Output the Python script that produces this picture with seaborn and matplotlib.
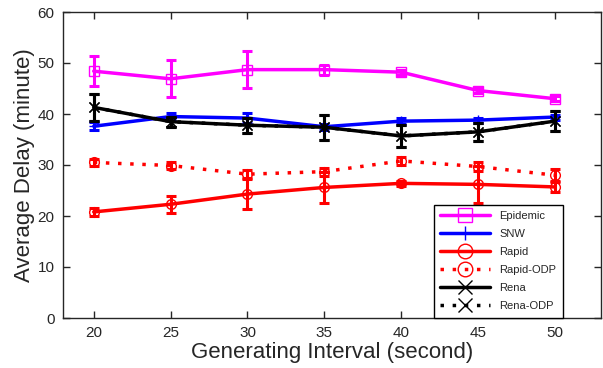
import matplotlib
matplotlib.use("Agg")
import matplotlib.pyplot as plt
import seaborn as sns
import numpy as np

intervals = [20, 25, 30, 35, 40, 45, 50]

epidemic = [48.4, 46.9, 48.7, 48.7, 48.2, 44.6, 43.0]
epidemic_err = [3.0, 3.6, 3.6, 1.0, 0.5, 0.5, 0.5]
snw = [37.6, 39.5, 39.2, 37.5, 38.6, 38.8, 39.4]
snw_err = [0.8, 0.6, 0.9, 0.6, 0.6, 0.5, 0.5]
rapid = [20.8, 22.3, 24.3, 25.6, 26.4, 26.2, 25.7]
rapid_err = [0.8, 1.7, 3.0, 3.0, 0.5, 3.6, 1.0]
rapid_odp = [30.5, 29.9, 28.2, 28.7, 30.8, 29.7, 28.0]
rapid_odp_err = [0.6, 0.6, 0.8, 0.8, 0.8, 0.8, 1.2]
rena = [41.3, 38.5, 37.8, 37.4, 35.7, 36.5, 38.6]
rena_err = [2.7, 1.0, 1.5, 2.4, 2.1, 1.8, 2.0]
rena_odp = [41.3, 38.5, 37.8, 37.4, 35.7, 36.5, 38.6]
rena_odp_err = [2.7, 1.0, 1.5, 2.4, 2.1, 1.8, 2.0]

sns.set_style("ticks")
plt.rcParams['font.family'] = ['Liberation Sans', 'DejaVu Sans']

fig = plt.figure(figsize=(6.03, 3.68), dpi=100)
ax = fig.add_axes([63/603, (368-318)/368, (601-63)/603, (318-12)/368])

dotted = (0, (1.0, 2.5))
series = [
    ("Epidemic", epidemic, epidemic_err, "#ff00ff", "-", "s"),
    ("SNW", snw, snw_err, "#0000ff", "-", "+"),
    ("Rapid", rapid, rapid_err, "#ff0000", "-", "o"),
    ("Rapid-ODP", rapid_odp, rapid_odp_err, "#ff0000", dotted, "o"),
    ("Rena", rena, rena_err, "#000000", "-", "x"),
    ("Rena-ODP", rena_odp, rena_odp_err, "#000000", dotted, "x"),
]

for name, vals, err, col, ls, mk in series:
    sns.lineplot(x=intervals, y=vals, ax=ax, color=col, linestyle=ls, linewidth=2.2,
                 marker=mk, markersize=7, markerfacecolor='none', markeredgecolor=col,
                 markeredgewidth=2.0, label=name)
    ax.errorbar(intervals, vals, yerr=err, fmt='none', ecolor=col, elinewidth=2.2,
                capsize=3.5, capthick=2.2)

ax.set_xlim(18, 53)
ax.set_ylim(0, 60)
ax.set_xticks(intervals)
ax.set_yticks([0, 10, 20, 30, 40, 50, 60])
ax.tick_params(direction='in', top=True, right=True, labelsize=11, length=5, width=1, pad=6)
for s in ax.spines.values():
    s.set_linewidth(1.0)
ax.set_xlabel("Generating Interval (second)", fontsize=16, labelpad=1)
ax.set_ylabel("Average Delay (minute)", fontsize=16, labelpad=2)

handles, labels = ax.get_legend_handles_labels()
for h in handles:
    h.set_linewidth(2.5)
    h.set_markeredgewidth(1.0)
leg = ax.legend(handles, labels, loc='lower right', bbox_to_anchor=(0.929, 0.0),
                fontsize=8, frameon=True, fancybox=False, edgecolor='black',
                handlelength=4.5, borderpad=0.6, labelspacing=0.72, borderaxespad=0,
                markerscale=1.5, handletextpad=0.8, framealpha=1)
leg.get_frame().set_linewidth(1.0)

fig.savefig("out.png", dpi=100)
